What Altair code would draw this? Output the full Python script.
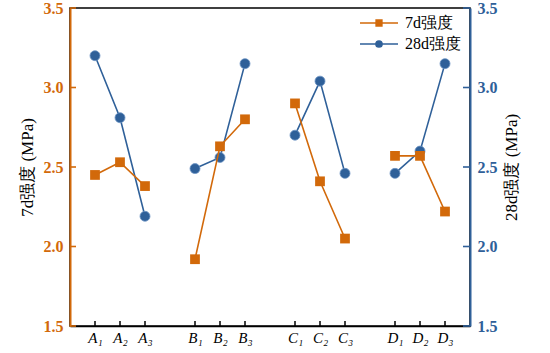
import altair as alt
import pandas as pd

pos = [1, 2, 3, 5, 6, 7, 9, 10, 11, 13, 14, 15]
groups = ["A", "A", "A", "B", "B", "B", "C", "C", "C", "D", "D", "D"]
labels = ["A₁", "A₂", "A₃", "B₁", "B₂", "B₃", "C₁", "C₂", "C₃", "D₁", "D₂", "D₃"]
s7 = [2.45, 2.53, 2.38, 1.92, 2.63, 2.80, 2.90, 2.41, 2.05, 2.57, 2.57, 2.22]
s28 = [3.20, 2.81, 2.19, 2.49, 2.56, 3.15, 2.70, 3.04, 2.46, 2.46, 2.60, 3.15]
yticks = [1.5, 2.0, 2.5, 3.0, 3.5]

ORANGE = "#d2690a"
BLUE = "#2f6099"
FONT = "Times New Roman, Liberation Serif, serif"
W, H = 400, 318

df = pd.DataFrame({"pos": pos, "grp": groups, "lab": labels, "v7": s7, "v28": s28,
                   "s7": "7d强度", "s28": "28d强度"})
df_yt = pd.DataFrame({"t": yticks})
df_xt = pd.DataFrame({"pos": pos})

lab_arr = [""] * 17
for p, l in zip(pos, labels):
    lab_arr[p] = l
label_expr = "[" + ",".join("'" + l + "'" for l in lab_arr) + "][datum.value]"

xscale = alt.Scale(domain=[0, 16], nice=False)
xaxis = alt.Axis(values=pos, labelExpr=label_expr, title=None, grid=False,
                 domainColor="black", domainWidth=1.5, ticks=False, tickSize=0,
                 labelFont=FONT, labelFontSize=15, labelFontStyle="italic",
                 labelColor="black", labelPadding=4)
xenc = alt.X("pos:Q", scale=xscale, axis=xaxis)

base = alt.Chart(df)
yscale = alt.Scale(domain=[1.5, 3.5], nice=False)

# inward tick marks (axis decoration) drawn through the scales
xtick = alt.Chart(df_xt).mark_rule(color="black", strokeWidth=1.5).encode(
    x=xenc, y=alt.value(H), y2=alt.value(H - 5))

ax7 = alt.Axis(values=yticks, format=".1f", title="7d强度 (MPa)", grid=False, orient="left",
               domainColor=ORANGE, domainWidth=2, ticks=False, tickSize=0,
               labelColor=ORANGE, labelFont=FONT,
               labelFontSize=16, labelFontWeight="bold", labelPadding=7,
               titleFont=FONT, titleFontSize=17, titleFontWeight="normal",
               titleColor="black", titlePadding=7)
y7 = alt.Y("v7:Q", scale=yscale, axis=ax7)

LEG = dict(title=None, orient="none", symbolSize=1444, symbolStrokeWidth=1.6,
           labelFont=FONT, labelFontSize=16, labelColor="black", labelOffset=6, padding=0)

ytick7 = alt.Chart(df_yt).mark_rule(color=ORANGE, strokeWidth=1.6).encode(
    y=alt.Y("t:Q", scale=yscale, axis=ax7), x=alt.value(0), x2=alt.value(6))
line7 = base.mark_line(color=ORANGE, strokeWidth=1.6).encode(x=xenc, y=y7, detail="grp:N")
pt7 = base.mark_point(shape="square", filled=True, size=95, opacity=1, color=ORANGE).encode(
    x=xenc, y=y7,
    color=alt.Color("s7:N", scale=alt.Scale(range=[ORANGE]),
                    legend=alt.Legend(legendX=289, legendY=-5,
                                      symbolType="M-1,0H-0.15M0.15,0H1M-0.15,-0.15H0.15V0.15H-0.15Z",
                                      symbolStrokeColor=ORANGE, symbolFillColor=ORANGE,
                                      **LEG)))
layer7 = alt.layer(line7, pt7, ytick7)

ax28 = alt.Axis(values=yticks, format=".1f", title="28d强度 (MPa)", grid=False, orient="right",
                domainColor=BLUE, domainWidth=2, ticks=False, tickSize=0,
                labelColor=BLUE, labelFont=FONT,
                labelFontSize=16, labelFontWeight="bold", labelPadding=7,
                titleFont=FONT, titleFontSize=17, titleFontWeight="normal",
                titleColor="black", titleAngle=270, titlePadding=23)
y28 = alt.Y("v28:Q", scale=yscale, axis=ax28)

ytick28 = alt.Chart(df_yt).mark_rule(color=BLUE, strokeWidth=1.6).encode(
    y=alt.Y("t:Q", scale=yscale, axis=ax28), x=alt.value(W - 7), x2=alt.value(W))
line28 = base.mark_line(color=BLUE, strokeWidth=1.6).encode(x=xenc, y=y28, detail="grp:N")
pt28 = base.mark_point(shape="circle", filled=True, size=100, opacity=1, color=BLUE,
                       stroke="#6d94c4", strokeWidth=0.8).encode(
    x=xenc, y=y28,
    color=alt.Color("s28:N", scale=alt.Scale(range=[BLUE]),
                    legend=alt.Legend(legendX=289, legendY=16,
                                      symbolType="M-1,0H-0.16M0.16,0H1M0.16,0A0.16,0.16,0,1,1,-0.16,0A0.16,0.16,0,1,1,0.16,0Z",
                                      symbolStrokeColor=BLUE, symbolFillColor=BLUE,
                                      **LEG)))
layer28 = alt.layer(line28, pt28, ytick28)

chart = alt.layer(layer28, layer7, xtick).resolve_scale(y="independent", color="independent").properties(
    width=W, height=H,
    autosize=alt.AutoSizeParams(type="none"),
    padding={"left": 70, "top": 8, "right": 80, "bottom": 27},
).configure_view(stroke="black", strokeWidth=1.5)

chart.save("out.html", embed_options={"renderer": "svg", "actions": False})
